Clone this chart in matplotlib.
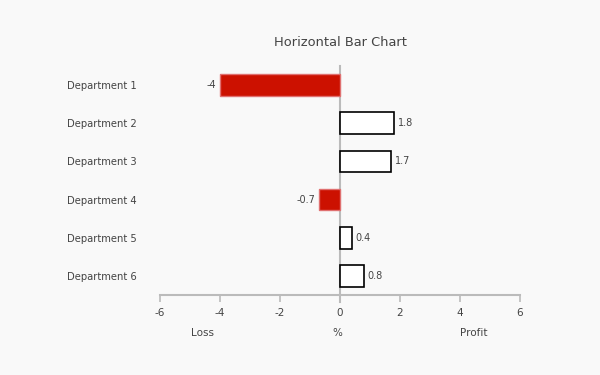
import matplotlib
matplotlib.use('Agg')
from matplotlib import pyplot as plt

departments = ['Department 1', 'Department 2', 'Department 3',
               'Department 4', 'Department 5', 'Department 6']
profit = [-4, 1.8, 1.7, -0.7, 0.4, 0.8]
ticks = [-6, -4, -2, 0, 2, 4, 6]

bg = '#f9f9f9'
txt = '#444444'
grey = '#bbbbbb'

plt.rcParams['font.family'] = ['DejaVu Sans']

fig = plt.figure(figsize=(6, 3.75), dpi=100, facecolor=bg)
ax = fig.add_axes([160 / 600, 1 - 295 / 375, 360 / 600, 229 / 375])
ax.set_facecolor(bg)

pos = list(range(len(departments)))
for y, v in zip(pos, profit):
    if v < 0:
        ax.barh(y, v, height=0.57, color='#cc1100', edgecolor='#e07070', linewidth=1)
        ax.text(v - 0.12, y, str(v), ha='right', va='center', fontsize=7, color=txt)
    else:
        ax.barh(y, v, height=0.57, color='white', edgecolor='black', linewidth=1.2)
        ax.text(v + 0.12, y, str(v), ha='left', va='center', fontsize=7, color=txt)

ax.axvline(0, ymin=-0.03, ymax=1, color=grey, linewidth=1.5, clip_on=False, zorder=0)

ax.set_xlim(-6, 6)
ax.set_ylim(len(departments) - 0.5, -0.5)
ax.set_xticks(ticks)
ax.set_xticklabels([str(t) for t in ticks])
ax.set_yticks(pos)
ax.set_yticklabels(departments)

for s in ['top', 'right', 'left']:
    ax.spines[s].set_visible(False)
ax.spines['bottom'].set_color(grey)
ax.spines['bottom'].set_linewidth(1.5)
ax.tick_params(axis='x', colors=grey, labelcolor=txt, labelsize=7.5, length=5, width=1.2, pad=4)
ax.tick_params(axis='y', length=0, labelcolor=txt, labelsize=7.2, pad=67)
for lab in ax.get_yticklabels():
    lab.set_horizontalalignment('left')

fig.text(203 / 600, 1 - 333 / 375, 'Loss', ha='center', va='center', fontsize=7.5, color=txt)
fig.text(337 / 600, 1 - 333 / 375, '%', ha='center', va='center', fontsize=7.5, color=txt)
fig.text(474 / 600, 1 - 333 / 375, 'Profit', ha='center', va='center', fontsize=7.5, color=txt)
fig.text(340 / 600, 1 - 43 / 375, 'Horizontal Bar Chart', ha='center', va='center', fontsize=9.4, color=txt)

fig.savefig('out.png', facecolor=bg)
plt.close(fig)
